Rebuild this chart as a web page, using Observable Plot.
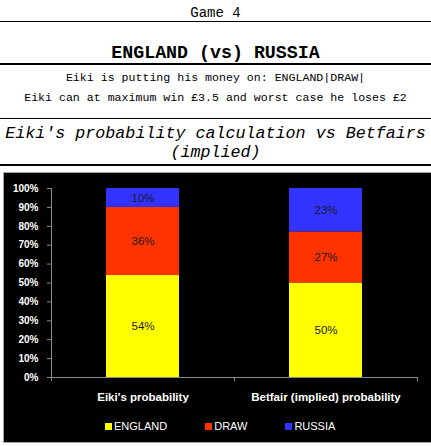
<!DOCTYPE html>
<html>
<head>
<meta charset="utf-8">
<script src="https://cdn.jsdelivr.net/npm/d3@7"></script>
<script src="https://cdn.jsdelivr.net/npm/@observablehq/plot@0.6"></script>
<style>
  html, body { margin: 0; padding: 0; background: #fff; overflow: hidden; }
  body { width: 431px; height: 446px; position: relative; }
  .mono { position: absolute; left: 0; width: 431px; text-align: center; color: #000;
          font-family: "Liberation Mono", "Courier New", monospace; line-height: normal; white-space: pre; }
  .hr { position: absolute; left: 0; width: 431px; height: 1.5px; background: #000; }
  #box { position: absolute; left: 3px; top: 172px; width: 440px; height: 271px; box-sizing: border-box;
         background: #000; border: 1.5px solid #a6a6a6; }
  #chart { position: absolute; left: 0; top: 175px; }
  #legend { position: absolute; left: 105px; top: 420px; display: flex; align-items: center; gap: 38px;
            font-family: "Liberation Sans", Arial, sans-serif; font-size: 11px; color: #fff; line-height: 12px; }
  #legend .item { display: flex; align-items: center; }
  #legend .sw { width: 7px; height: 7px; margin-right: 2px; }
</style>
</head>
<body>
<div class="mono" id="game" style="top:4.8px;font-size:14px;"></div>
<div class="hr" style="top:20.5px;"></div>
<div class="mono" id="match" style="top:43px;font-size:18.3px;font-weight:bold;"></div>
<div class="hr" style="top:63.3px;"></div>
<div class="mono" id="line1" style="top:71px;font-size:11.6px;"></div>
<div class="mono" id="line2" style="top:91px;font-size:11.6px;"></div>
<div class="hr" style="top:117.6px;"></div>
<div class="mono" id="title" style="top:124.2px;font-size:16.7px;font-style:italic;line-height:19.3px;"></div>
<div class="hr" style="top:164.3px;"></div>
<div id="box"></div>
<div id="chart"></div>
<div id="legend"></div>
<script>
// ---- texts ----
const gameText = "Game 4";
const matchText = "ENGLAND (vs) RUSSIA";
const line1Text = "Eiki is putting his money on: ENGLAND|DRAW|";
const line2Text = "Eiki can at maximum win £3.5 and worst case he loses £2";
const titleLines = ["Eiki's probability calculation vs Betfairs", "(implied)"];

// ---- data ----
const categories = ["Eiki's probability", "Betfair (implied) probability"];
const outcomes = ["ENGLAND", "DRAW", "RUSSIA"];
const eikiValues = [54, 36, 10];
const betfairValues = [50, 27, 23];
const outcomeColors = ["#ffff00", "#ff3300", "#3333ff"];
const yTicks = [0, 10, 20, 30, 40, 50, 60, 70, 80, 90, 100];

document.getElementById("game").textContent = gameText;
document.getElementById("match").textContent = matchText;
document.getElementById("line1").textContent = line1Text;
document.getElementById("line2").textContent = line2Text;
document.getElementById("title").textContent = titleLines.join("\n");

const seriesValues = [eikiValues, betfairValues];
const rows = [];
categories.forEach((c, ci) => {
  outcomes.forEach((o, oi) => rows.push({who: c, outcome: o, value: seriesValues[ci][oi]}));
});

const W = 431, H = 230, ML = 51, MR = 14, MT = 13, MB = 28;
const step = (W - ML - MR) / categories.length;

const chart = Plot.plot({
  width: W,
  height: H,
  marginLeft: ML,
  marginRight: MR,
  marginTop: MT,
  marginBottom: MB,
  style: {background: "transparent", color: "white", fontFamily: "'Liberation Sans', Arial, sans-serif", overflow: "visible"},
  x: {domain: categories, paddingInner: 0.6, paddingOuter: 0.3, label: null},
  y: {domain: [0, 100], label: null},
  color: {domain: outcomes, range: outcomeColors},
  marks: [
    Plot.barY(rows, Plot.stackY({x: "who", y: "value", fill: "outcome"})),
    Plot.text(rows, Plot.stackY({x: "who", y: "value", z: "outcome", text: d => d.value + "%",
      fill: "#1a1a1a", fontSize: 11.5})),
    Plot.ruleY([0], {stroke: "#8c8c8c"}),
    Plot.ruleX([categories[0]], {x: d => d, dx: -step / 2, y1: 100, y2: 0, insetBottom: -4, stroke: "#8c8c8c"}),
    Plot.ruleX(categories, {x: d => d, dx: step / 2, y1: 0, y2: 0, insetBottom: -4, stroke: "#8c8c8c"}),
    Plot.axisY({ticks: yTicks, tickSize: 4, tickPadding: 9, tickFormat: d => d + "%",
      stroke: "#8c8c8c", fill: "white", fontWeight: "bold", fontSize: 10, label: null}),
    Plot.axisX({tickSize: 0, tickPadding: 15, fill: "white", fontWeight: "bold", fontSize: 11.5, label: null})
  ]
});
document.getElementById("chart").appendChild(chart);

const legend = document.getElementById("legend");
outcomes.forEach((o, i) => {
  const item = document.createElement("div");
  item.className = "item";
  const sw = document.createElement("span");
  sw.className = "sw";
  sw.style.background = outcomeColors[i];
  const t = document.createElement("span");
  t.textContent = o;
  item.appendChild(sw);
  item.appendChild(t);
  legend.appendChild(item);
});
</script>
</body>
</html>
